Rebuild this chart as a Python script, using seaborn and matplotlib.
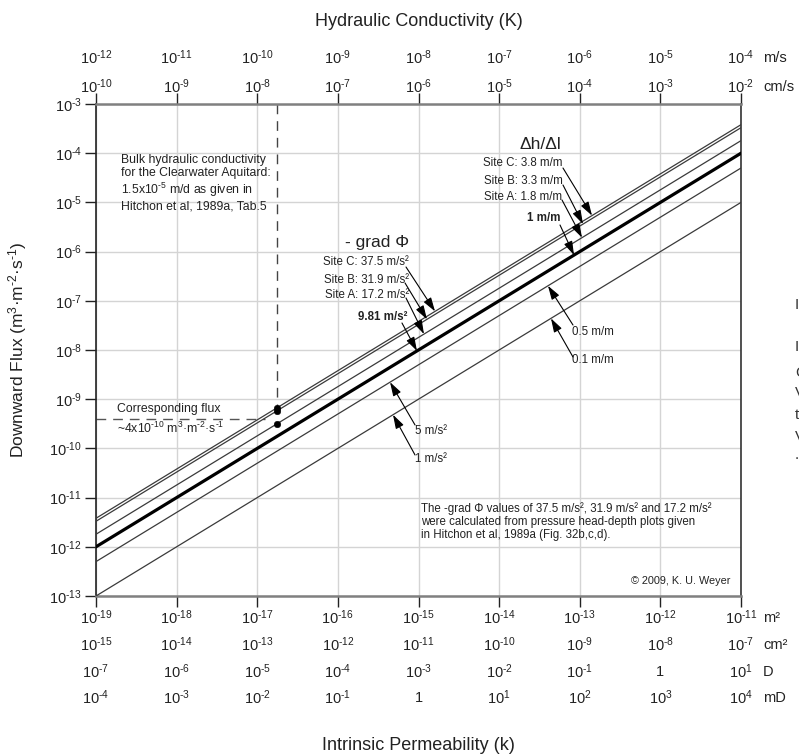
import matplotlib
matplotlib.use("Agg")
import matplotlib.pyplot as plt
import seaborn as sns
import pandas as pd
from matplotlib import transforms

sns.set_theme(style="white")
plt.rcParams["font.family"] = ["Liberation Sans", "DejaVu Sans"]
plt.rcParams["mathtext.fontset"] = "custom"
plt.rcParams["mathtext.rm"] = "Liberation Sans"
plt.rcParams["mathtext.it"] = "Liberation Sans:italic"
plt.rcParams["mathtext.bf"] = "Liberation Sans:bold"
plt.rcParams["mathtext.default"] = "regular"

# ---------------- data ----------------
k_ends = [1e-19, 1e-11]                      # intrinsic permeability range (m2)
gradients = ["0.1 m/m", "0.5 m/m", "1 m/m", "1.8 m/m", "3.3 m/m", "3.8 m/m"]
flux_at_kmin = [1e-13, 5e-13, 1e-12, 1.8e-12, 3.3e-12, 3.8e-12]
flux_at_kmax = [1e-5, 5e-5, 1e-4, 1.8e-4, 3.3e-4, 3.8e-4]

k_clearwater = 1.77e-17                      # bulk permeability of the aquitard
site_flux = [6.7e-10, 5.8e-10, 3.2e-10]      # Site C, B, A at k_clearwater
corresponding_flux = 4e-10

y_exponents = list(range(-13, -2))
m2_exp = [-19, -18, -17, -16, -15, -14, -13, -12, -11]
cm2_exp = [-15, -14, -13, -12, -11, -10, -9, -8, -7]
darcy_exp = [-7, -6, -5, -4, -3, -2, -1, 0, 1]
mdarcy_exp = [-4, -3, -2, -1, 0, 1, 2, 3, 4]
ms_exp = [-12, -11, -10, -9, -8, -7, -6, -5, -4]
cms_exp = [-10, -9, -8, -7, -6, -5, -4, -3, -2]
k_ticks = [10.0 ** e for e in m2_exp]


def pow10(e):
    if e == 0:
        return "1"
    if e < 0:
        return r"$10^{\text{-}%d}$" % (-e)
    return "$10^{%d}$" % e


rows = []
for g, f0, f1 in zip(gradients, flux_at_kmin, flux_at_kmax):
    rows.append({"k": k_ends[0], "flux": f0, "gradient": g})
    rows.append({"k": k_ends[1], "flux": f1, "gradient": g})
df = pd.DataFrame(rows)

# ---------------- figure ----------------
W, H = 799, 755
fig = plt.figure(figsize=(W / 100, H / 100), dpi=100)
L, R, T, B = 96, 741, 104, 596
ax = fig.add_axes([L / W, (H - B) / H, (R - L) / W, (B - T) / H])
ax.set_xscale("log")
ax.set_yscale("log")
ax.set_xlim(1e-19, 1e-11)
ax.set_ylim(1e-13, 1e-3)

for g in gradients:
    sub = df[df["gradient"] == g]
    thick = g == "1 m/m"
    sns.lineplot(data=sub, x="k", y="flux", ax=ax, color="black" if thick else "#3a3a3a",
                 lw=2.3 if thick else 0.9, legend=False, zorder=3)

# dashed guides
ax.plot([k_clearwater, k_clearwater], [1e-3, site_flux[0]], ls=(0, (7, 5)),
        color="#444", lw=1.0, zorder=2)
ax.plot([1e-19, 1.24e-17], [corresponding_flux, corresponding_flux], ls=(0, (7, 5)),
        color="#555", lw=1.0, zorder=2)
sns.scatterplot(x=[k_clearwater] * 3, y=site_flux, ax=ax, color="black", s=22,
                edgecolor="black", zorder=5, legend=False)

# grid & spines
ax.set_xticks(k_ticks)
ax.set_xticklabels([])
ax.minorticks_off()
ax.set_yticks([10.0 ** e for e in y_exponents])
ax.set_yticklabels([pow10(e) for e in y_exponents], fontsize=10.5, color="#222")
ax.grid(True, color="#d4d4d4", lw=1.0, zorder=0)
ax.tick_params(axis="x", which="major", bottom=True, top=True, direction="out",
               length=8, width=1.0, color="#222", labelbottom=False)
ax.tick_params(axis="y", which="major", left=True, direction="out", length=8,
               width=1.0, color="#222", pad=2)
ax.set_xlabel("")
ax.set_ylabel("")
for s in ["top", "bottom"]:
    ax.spines[s].set_color("#808080")
    ax.spines[s].set_linewidth(1.8)
ax.spines["left"].set_color("#222")
ax.spines["left"].set_linewidth(1.2)
ax.spines["right"].set_color("#333")
ax.spines["right"].set_linewidth(1.2)

# multi-row tick labels
tr = transforms.blended_transform_factory(ax.transData, fig.transFigure)


def fy(py):
    return (H - py) / H


for exps, py in [(m2_exp, 618), (cm2_exp, 645), (darcy_exp, 672),
                 (mdarcy_exp, 698), (ms_exp, 58), (cms_exp, 87)]:
    for kx, e in zip(k_ticks, exps):
        ax.text(kx, fy(py), pow10(e), transform=tr, ha="center", va="center",
                fontsize=10.5, color="#222")
for lab, py in [("m²", 618), ("cm²", 645), ("D", 672), ("mD", 698),
                ("m/s", 58), ("cm/s", 87)]:
    fig.text(763 / W, fy(py), lab, ha="left", va="center", fontsize=10.5, color="#222")

fig.text((L + R) / 2 / W, fy(22), "Hydraulic Conductivity (K)", ha="center",
         va="center", fontsize=13, color="#222")
fig.text((L + R) / 2 / W, fy(745), "Intrinsic Permeability (k)", ha="center",
         va="center", fontsize=13, color="#222")
fig.text(18 / W, fy(350), r"Downward Flux (m$^{3}$·m$^{\text{-}2}$·s$^{\text{-}1}$)",
         rotation=90, ha="center", va="center", fontsize=12.5, color="#222")


def P(xe, ye):
    return (10.0 ** xe, 10.0 ** ye)


arrow = dict(arrowstyle="-|>,head_length=0.7,head_width=0.22", color="black",
             lw=0.8, shrinkA=0, shrinkB=0)
fs = 8.3

# - grad Phi group
ax.text(*P(-15.515, -5.825), "- grad Φ", ha="center", va="center", fontsize=12.5, color="#222")
for txt, tpos, tail, tip, bold in [
    ("Site C: 37.5 m/s²", (-15.118, -6.211), (-15.155, -6.313), (-14.795, -7.215), False),
    ("Site B: 31.9 m/s²", (-15.118, -6.577), (-15.167, -6.638), (-14.895, -7.377), False),
    ("Site A: 17.2 m/s²", (-15.118, -6.882), (-15.155, -6.943), (-14.932, -7.677), False),
    ("9.81 m/s²", (-15.143, -7.329), (-15.205, -7.451), (-15.019, -8.019), True),
]:
    ax.text(*P(*tpos), txt, ha="right", va="center", fontsize=fs, color="#222",
            fontweight="bold" if bold else "normal")
    ax.annotate("", xy=P(*tip), xytext=P(*tail), arrowprops=arrow)

# dh/dl group
ax.text(*P(-13.493, -3.833), "Δh/Δl", ha="center", va="center", fontsize=12.5, color="#222")
for txt, tpos, tail, tip, bold in [
    ("Site C: 3.8 m/m", (-13.208, -4.199), (-13.208, -4.301), (-12.848, -5.268), False),
    ("Site B: 3.3 m/m", (-13.208, -4.565), (-13.208, -4.646), (-12.960, -5.440), False),
    ("Site A: 1.8 m/m", (-13.220, -4.890), (-13.220, -4.951), (-12.972, -5.717), False),
    ("1 m/m", (-13.233, -5.317), (-13.245, -5.459), (-13.071, -6.071), True),
]:
    ax.text(*P(*tpos), txt, ha="right", va="center", fontsize=fs, color="#222",
            fontweight="bold" if bold else "normal")
    ax.annotate("", xy=P(*tip), xytext=P(*tail), arrowprops=arrow)

# lower gradient labels
for txt, tpos, tail, tip in [
    ("5 m/s²", (-15.043, -9.646), (-15.043, -9.524), (-15.353, -8.654)),
    ("1 m/s²", (-15.043, -10.215), (-15.043, -10.134), (-15.316, -9.316)),
    ("0.5 m/m", (-13.096, -7.634), (-13.084, -7.492), (-13.394, -6.695)),
    ("0.1 m/m", (-13.096, -8.203), (-13.084, -8.142), (-13.357, -7.357)),
]:
    ax.text(*P(*tpos), txt, ha="left", va="center", fontsize=fs, color="#222")
    ax.annotate("", xy=P(*tip), xytext=P(*tail), arrowprops=arrow)

# text blocks
ax.text(*P(-18.69, -4.02),
        "Bulk hydraulic conductivity\nfor the Clearwater Aquitard:\n"
        r"1.5x10$^{\text{-}5}$ m/d as given in" "\nHitchon et al, 1989a, Tab.5",
        ha="left", va="top", fontsize=8.8, linespacing=1.12, color="#222")
ax.text(*P(-18.74, -9.199), "Corresponding flux", ha="left", va="center",
        fontsize=8.8, color="#222")
ax.text(*P(-18.74, -9.585),
        r"~4x10$^{\text{-}10}$ m$^{3}$·m$^{\text{-}2}$·s$^{\text{-}1}$", ha="left",
        va="center", fontsize=8.8, color="#222")
ax.text(*P(-14.969, -11.10),
        "The -grad Φ values of 37.5 m/s², 31.9 m/s² and 17.2 m/s²\n"
        "were calculated from pressure head-depth plots given\n"
        "in Hitchon et al, 1989a (Fig. 32b,c,d).",
        ha="left", va="top", fontsize=8.3, linespacing=1.1, color="#222")
ax.text(*P(-11.136, -12.695), "© 2009, K. U. Weyer", ha="right", va="center",
        fontsize=7.8, color="#222")

# clipped fragments of neighbouring text at the right edge
for ch, py in [("I", 305), ("I", 347), ("C", 373), ("V", 393), ("t", 415),
               ("V", 437), (".", 455)]:
    fig.text(795 / W, fy(py), ch, ha="left", va="center", fontsize=11, color="#333")

fig.savefig("out.png", dpi=100)
